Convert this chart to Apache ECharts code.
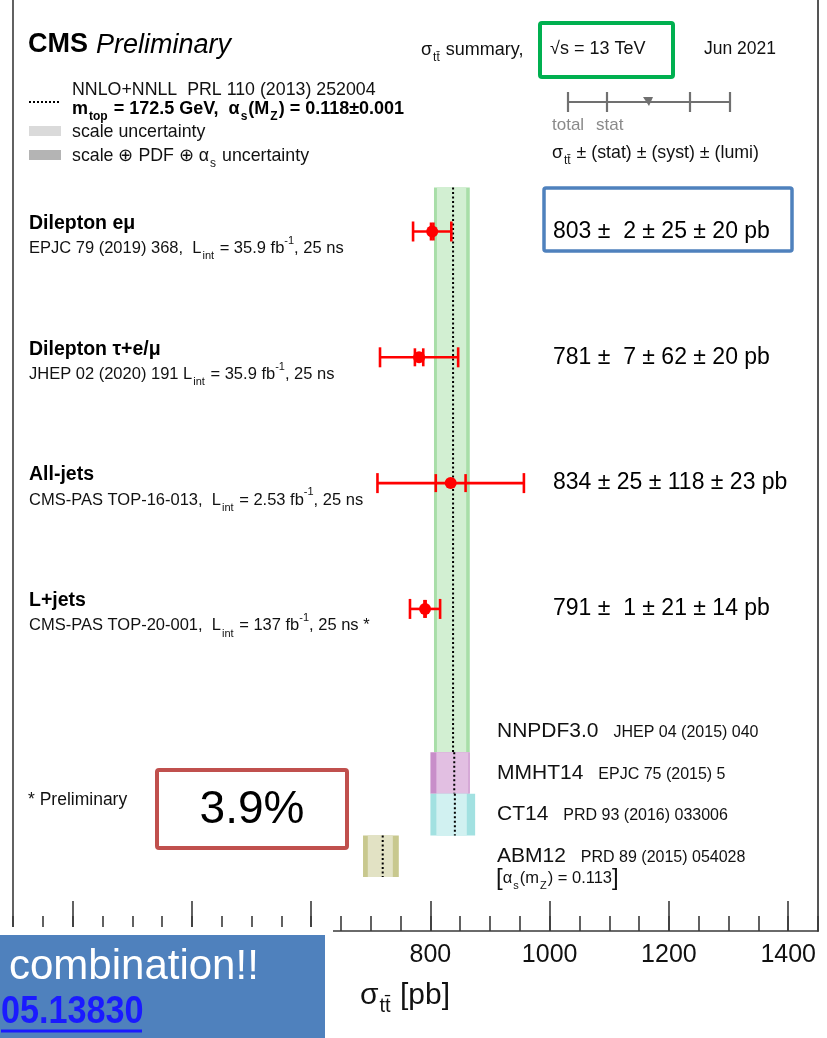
<!DOCTYPE html>
<html>
<head>
<meta charset="utf-8">
<script src="https://cdn.jsdelivr.net/npm/echarts@6/dist/echarts.min.js"></script>
<style>
  html, body { margin: 0; padding: 0; background: #ffffff; }
  #main { width: 827px; height: 1038px; }
</style>
</head>
<body>
<div id="main"></div>
<script>
// ---- measurements: sigma_tt at 13 TeV (pb) ----
const channels = ['Dilepton eμ', 'Dilepton τ+e/μ', 'All-jets', 'L+jets'];
const channelRefs = ['EPJC 79 (2019) 368,  ', 'JHEP 02 (2020) 191 ', 'CMS-PAS TOP-16-013,  ', 'CMS-PAS TOP-20-001,  '];
const channelLumi = ['35.9', '35.9', '2.53', '137'];
const channelSuffix = [', 25 ns', ', 25 ns', ', 25 ns', ', 25 ns *'];
const xsec = [803, 781, 834, 791];
const statErr = [2, 7, 25, 1];
const systErr = [25, 62, 118, 21];
const lumiErr = [20, 20, 23, 14];

// ---- NNLO+NNLL predictions for several PDF sets (pb) ----
const pdfSets = ['NNPDF3.0', 'MMHT14', 'CT14', 'ABM12'];
const pdfRefs = ['JHEP 04 (2015) 040', 'EPJC 75 (2015) 5', 'PRD 93 (2016) 033006', 'PRD 89 (2015) 054028'];
const theoryCentral = [838, 840, 841, 720];
const scaleLow = [811, 810, 810, 695];
const scaleHigh = [860, 864, 861, 737];
const totalLow = [806, 800, 800, 687];
const totalHigh = [866, 866, 875, 747];

// ---- axis ----
const xTickLabels = [200, 400, 600, 800, 1000, 1200, 1400];

// ---- layout (vertical slots in axis units, styles) ----
const X_MIN = 100, X_MAX = 1450, Y_MAX = 7.4;
const rowY = [1.84, 2.84, 3.84, 4.84];
const bandTop = [1.49, 5.98, 6.31, 6.64];
const bandBottom = [5.98, 6.31, 6.64, 6.97];
const pdfLabelY = [5.815, 6.145, 6.475, 6.805];
const bandOuter = ['#a8dea8', '#c88ec9', '#a2e1e1', '#c8c88e'];
const bandInner = ['#d2efd2', '#e2bfe2', '#d1f1f1', '#e2e2c4'];
const FONT = '"Liberation Sans", Arial, Helvetica, sans-serif';

const totalErr = xsec.map((_, i) => Math.sqrt(statErr[i] ** 2 + systErr[i] ** 2 + lumiErr[i] ** 2));

const chart = echarts.init(document.getElementById('main'), null, { renderer: 'canvas' });

const bandData = pdfSets.map((_, i) => [totalLow[i], totalHigh[i], scaleLow[i], scaleHigh[i], theoryCentral[i], bandTop[i], bandBottom[i], i]);
const measData = channels.map((_, i) => [xsec[i], rowY[i], statErr[i], totalErr[i]]);

function renderBand(params, api) {
  const tl = api.value(0), th = api.value(1), sl = api.value(2), sh = api.value(3);
  const c = api.value(4), yt = api.value(5), yb = api.value(6), k = api.value(7);
  const p0 = api.coord([tl, yt]), p1 = api.coord([th, yb]);
  const q0 = api.coord([sl, yt]), q1 = api.coord([sh, yb]);
  const m0 = api.coord([c, yt]), m1 = api.coord([c, yb]);
  return {
    type: 'group',
    children: [
      { type: 'rect', shape: { x: p0[0], y: p0[1], width: p1[0] - p0[0], height: p1[1] - p0[1] }, style: { fill: bandOuter[k] } },
      { type: 'rect', shape: { x: q0[0], y: q0[1], width: q1[0] - q0[0], height: q1[1] - q0[1] }, style: { fill: bandInner[k] } },
      { type: 'line', shape: { x1: m0[0], y1: m0[1], x2: m1[0], y2: m1[1] }, style: { stroke: '#000', lineWidth: 2, lineDash: [2, 2.5] } }
    ]
  };
}

function renderMeas(params, api) {
  const x = api.value(0), y = api.value(1), st = api.value(2), tot = api.value(3);
  const c = api.coord([x, y]);
  const lo = api.coord([x - tot, y]), hi = api.coord([x + tot, y]);
  const sl = api.coord([x - st, y]), sh = api.coord([x + st, y]);
  const s = { stroke: '#ff0000', lineWidth: 2.6 };
  const vl = (px, h) => ({ type: 'line', shape: { x1: px, y1: c[1] - h, x2: px, y2: c[1] + h }, style: s });
  return {
    type: 'group',
    children: [
      { type: 'line', shape: { x1: lo[0], y1: c[1], x2: hi[0], y2: c[1] }, style: s },
      vl(lo[0], 10), vl(hi[0], 10), vl(sl[0], 9), vl(sh[0], 9),
      { type: 'circle', shape: { cx: c[0], cy: c[1], r: 6 }, style: { fill: '#ff0000' } }
    ]
  };
}

chart.setOption({
  animation: false,
  backgroundColor: '#ffffff',
  grid: { left: 13, right: 9, top: 0, bottom: 107, containLabel: false },
  xAxis: [
    {
      type: 'value', min: X_MIN, max: X_MAX, position: 'bottom',
      axisLine: { show: true, onZero: false, lineStyle: { color: '#3a3a3a', width: 1.6 } },
      axisTick: { show: true, inside: true, length: 30, customValues: xTickLabels, lineStyle: { color: '#3a3a3a', width: 1.6 } },
      axisLabel: { show: true, customValues: xTickLabels, formatter: (v) => String(v), fontSize: 25, color: '#111', fontFamily: FONT, margin: 12 },
      splitLine: { show: false }
    },
    {
      type: 'value', min: X_MIN, max: X_MAX, interval: 50, position: 'bottom',
      axisLine: { show: false, onZero: false },
      axisTick: { show: true, inside: true, length: 15, lineStyle: { color: '#3a3a3a', width: 1.6 } },
      axisLabel: { show: false },
      splitLine: { show: false }
    }
  ],
  yAxis: [
    {
      type: 'value', min: 0, max: Y_MAX, inverse: true, position: 'left',
      axisLine: { show: true, onZero: false, lineStyle: { color: '#3a3a3a', width: 1.6 } },
      axisTick: { show: false }, axisLabel: { show: false }, splitLine: { show: false }
    },
    {
      type: 'value', min: 0, max: Y_MAX, inverse: true, position: 'right',
      axisLine: { show: true, onZero: false, lineStyle: { color: '#555', width: 2 } },
      axisTick: { show: false }, axisLabel: { show: false }, splitLine: { show: false }
    }
  ],
  series: [
    { type: 'custom', name: 'theory', renderItem: renderBand, data: bandData, z: 2, clip: false },
    { type: 'custom', name: 'measurements', renderItem: renderMeas, data: measData, z: 5, clip: false }
  ]
});

// ---- text annotations ----
const py = (v) => chart.convertToPixel({ gridIndex: 0 }, [X_MIN, v])[1];

function txt(x, y, text, opt, z) {
  return {
    type: 'text', x: x, y: y, z: z || 50,
    style: Object.assign({ text: text, fill: '#111', font: '16px ' + FONT, textAlign: 'left', textVerticalAlign: 'middle' }, opt || {})
  };
}
function richStyle(size, weight, color) {
  const f = { fontFamily: FONT, fontWeight: weight || 'normal', fill: color || '#111' };
  const small = Math.round(size * 0.65);
  return {
    s: Object.assign({ fontSize: size, lineHeight: size + 10, verticalAlign: 'middle' }, f),
    sub: Object.assign({ fontSize: small, lineHeight: small, verticalAlign: 'bottom', padding: [0, 1, 0, 1] }, f),
    sup: Object.assign({ fontSize: small, lineHeight: small, verticalAlign: 'top' }, f)
  };
}

const g = [];

// header
g.push(txt(28, 45, 'CMS', { font: 'bold 27px ' + FONT, fill: '#000' }));
g.push(txt(96, 45, 'Preliminary', { font: 'italic 27px ' + FONT, fill: '#000' }));
g.push(txt(421, 50, '{s|σ}{sub|tt̄}{s| summary,}', { rich: richStyle(18, 'normal', '#111') }));
g.push(txt(550, 49, '√s = 13 TeV', { font: '18px ' + FONT }));
g.push(txt(704, 49, 'Jun 2021', { font: '17.5px ' + FONT }));

// theory legend
g.push({ type: 'line', z: 50, shape: { x1: 29, y1: 102, x2: 61, y2: 102 }, style: { stroke: '#000', lineWidth: 2, lineDash: [2, 2] } });
g.push(txt(72, 90, 'NNLO+NNLL  PRL 110 (2013) 252004', { font: '17.8px ' + FONT }));
g.push(txt(72, 109, '{s|m}{sub|top}{s| = 172.5 GeV,  α}{sub|s}{s|(M}{sub|Z}{s|) = 0.118±0.001}', { rich: richStyle(18, 'bold', '#000') }));
g.push({ type: 'rect', z: 50, shape: { x: 29, y: 126, width: 32, height: 10 }, style: { fill: '#dadada' } });
g.push(txt(72, 132, 'scale uncertainty', { font: '17.8px ' + FONT }));
g.push({ type: 'rect', z: 50, shape: { x: 29, y: 150, width: 32, height: 10 }, style: { fill: '#b4b4b4' } });
g.push(txt(72, 156, '{s|scale ⊕ PDF ⊕ α}{sub|s}{s| uncertainty}', { rich: richStyle(17.8, 'normal', '#111') }));

// measurement legend key
const key = { stroke: '#707070', lineWidth: 2.2 };
g.push({ type: 'line', z: 50, shape: { x1: 568, y1: 102, x2: 730, y2: 102 }, style: key });
[568, 607, 690, 730].forEach((x) => g.push({ type: 'line', z: 50, shape: { x1: x, y1: 92, x2: x, y2: 112 }, style: key }));
g.push({ type: 'polygon', z: 50, shape: { points: [[643, 97], [653, 97], [649, 106]] }, style: { fill: '#707070' } });
g.push(txt(552, 125, 'total', { font: '17px ' + FONT, fill: '#8a8a8a' }));
g.push(txt(596, 125, 'stat', { font: '17px ' + FONT, fill: '#8a8a8a' }));
g.push(txt(552, 153, '{s|σ}{sub|tt̄}{s| ± (stat) ± (syst) ± (lumi)}', { rich: richStyle(17.8, 'normal', '#111') }));

// per-channel labels and values
channels.forEach((name, i) => {
  const y = py(rowY[i]);
  g.push(txt(29, y - 8, name, { font: 'bold 19.5px ' + FONT, fill: '#000' }));
  g.push(txt(29, y + 17,
    '{s|' + channelRefs[i] + 'L}{sub|int}{s| = ' + channelLumi[i] + ' fb}{sup|-1}{s|' + channelSuffix[i] + '}',
    { rich: richStyle(16.5, 'normal', '#111') }));
  const st = String(statErr[i]).length < 2 ? '  ' + statErr[i] : ' ' + statErr[i];
  const line = xsec[i] + ' ±' + st + ' ± ' + systErr[i] + ' ± ' + lumiErr[i] + ' pb';
  g.push(txt(553, y, line, { font: '23px ' + FONT, fill: '#000' }));
});

// PDF set labels
pdfSets.forEach((name, i) => {
  const y = py(pdfLabelY[i]);
  g.push(txt(497, y, '{n|' + name + '}{r|' + pdfRefs[i] + '}', {
    rich: {
      n: { fontSize: 21, fontFamily: FONT, fill: '#111' },
      r: { fontSize: 16, fontFamily: FONT, fill: '#111', padding: [2, 0, 0, 15] }
    }
  }));
});
g.push(txt(496, py(pdfLabelY[3]) + 22, '{b|[}{s|α}{sub|s}{s|(m}{sub|Z}{s|) = 0.113}{b|]}', {
  rich: Object.assign(richStyle(16.5, 'normal', '#111'), { b: { fontSize: 24, fontFamily: FONT, fill: '#111' } })
}));

// footnote and highlight boxes
g.push(txt(28, 800, '* Preliminary', { font: '17.5px ' + FONT }));
g.push({ type: 'rect', z: 60, shape: { x: 157, y: 770, width: 190, height: 78, r: 2 }, style: { fill: '#ffffff', stroke: '#c0504d', lineWidth: 4 } });
g.push(txt(252, 810, '3.9%', { font: '46px ' + FONT, fill: '#000', textAlign: 'center' }, 61));
g.push({ type: 'rect', z: 60, shape: { x: 544, y: 188, width: 248, height: 63, r: 2 }, style: { fill: 'none', stroke: '#4f81bd', lineWidth: 3.5 } });
g.push({ type: 'rect', z: 60, shape: { x: 540, y: 23, width: 133, height: 54, r: 2 }, style: { fill: 'none', stroke: '#00b050', lineWidth: 4 } });

// axis title
g.push(txt(360, 996, '{s|σ}{sub|tt̄}{s| [pb]}', { rich: richStyle(30, 'normal', '#111') }));

// banner over the lower-left corner
g.push({ type: 'rect', z: 80, shape: { x: 0, y: 927, width: 333, height: 111 }, style: { fill: '#ffffff' } });
g.push({ type: 'rect', z: 81, shape: { x: 0, y: 935, width: 325, height: 103 }, style: { fill: '#4f81bd' } });
g.push(txt(9, 967, 'combination!!', { font: '42px ' + FONT, fill: '#ffffff' }, 82));
const t2 = txt(1, 1013, '05.13830', { font: 'bold 38px ' + FONT, fill: '#1a1aff' }, 82);
t2.scaleX = 0.9;
g.push(t2);
g.push({ type: 'line', z: 82, shape: { x1: 1, y1: 1031, x2: 142, y2: 1031 }, style: { stroke: '#1a1aff', lineWidth: 3 } });

chart.setOption({ graphic: { elements: g } });
</script>
</body>
</html>
